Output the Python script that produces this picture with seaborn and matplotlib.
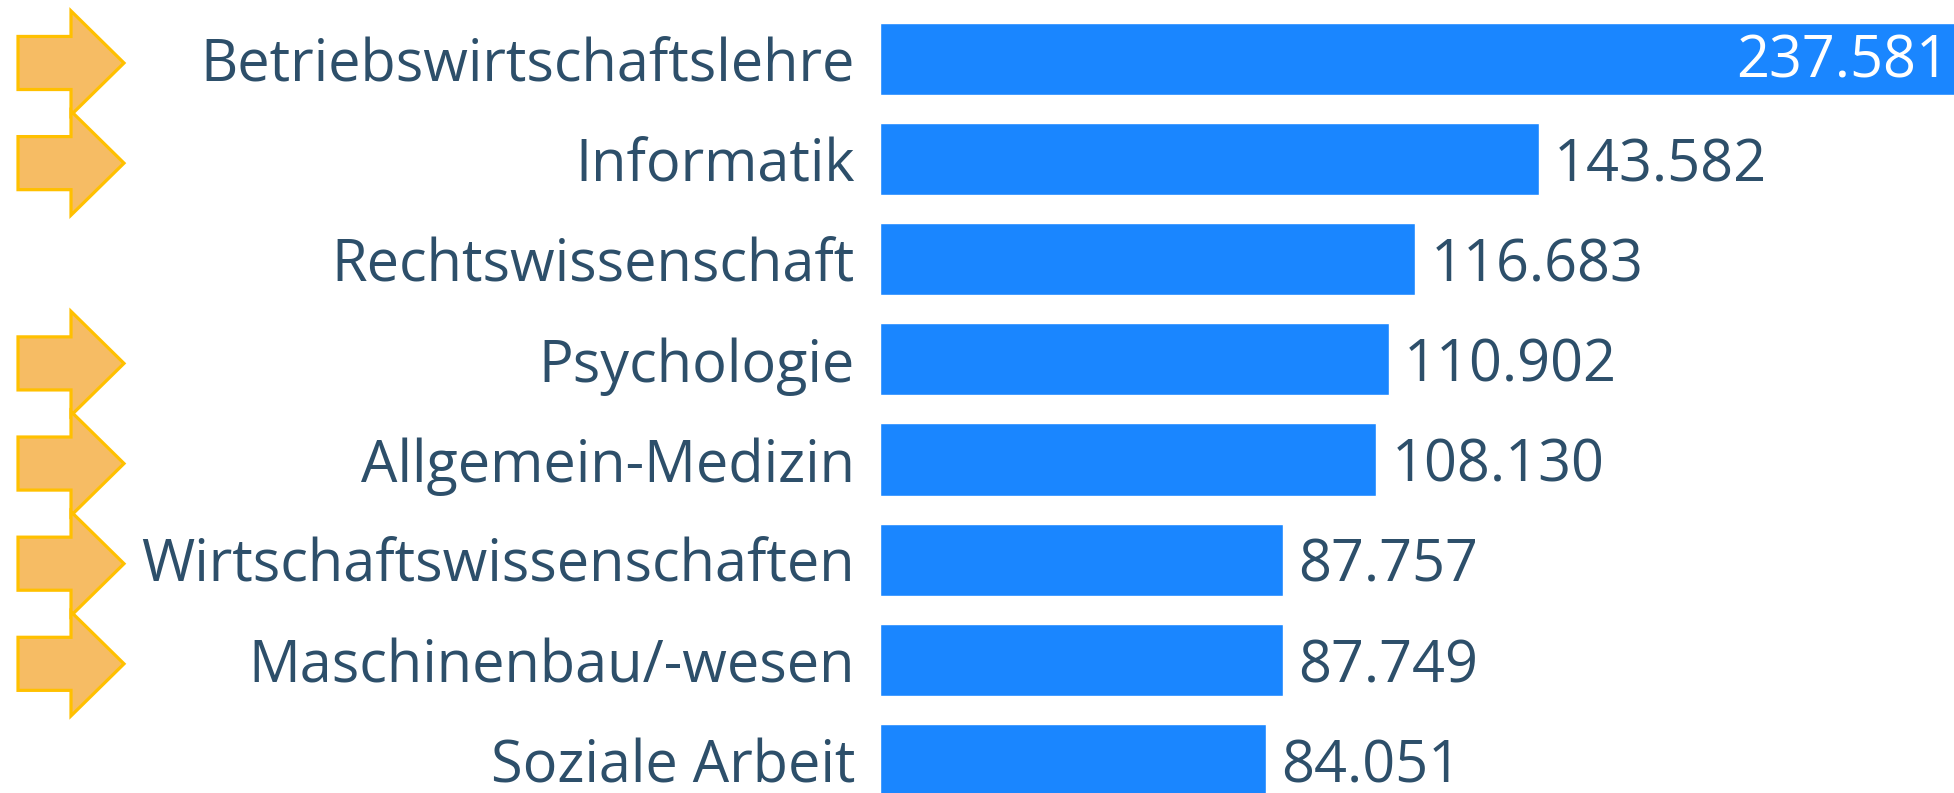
import matplotlib
matplotlib.use("Agg")
import matplotlib.pyplot as plt
from matplotlib.patches import Polygon
import seaborn as sns
import pandas as pd

# Data
faecher = ['Betriebswirtschaftslehre', 'Informatik', 'Rechtswissenschaft', 'Psychologie',
           'Allgemein-Medizin', 'Wirtschaftswissenschaften', 'Maschinenbau/-wesen', 'Soziale Arbeit']
studierende = [237.581, 143.582, 116.683, 110.902, 108.130, 87.757, 87.749, 84.051]
markiert = [True, True, False, True, True, True, True, False]

df = pd.DataFrame({'fach': faecher, 'wert': studierende})

sns.set_theme(style='white')
plt.rcParams['font.family'] = ['Open Sans', 'DejaVu Sans']

text_col = '#2d4f6a'
bar_col = '#1a86ff'
fs = 41.5

fig = plt.figure(figsize=(19.54, 7.93), dpi=100)
ax = fig.add_axes([880 / 1954, 0, 1 - 880 / 1954, 1])

sns.barplot(data=df, x='wert', y='fach', orient='h', color=bar_col,
            saturation=1, width=0.72, ax=ax)

ax.set_xlim(0, 234.1)
ax.set_ylim(7.33, -0.589)
ax.set_xlabel('')
ax.set_ylabel('')
ax.set_xticks([])
ax.tick_params(axis='y', length=0, pad=18, labelsize=fs, labelcolor=text_col)
sns.despine(ax=ax, left=True, bottom=True, top=True, right=True)

# value labels
for i, v in enumerate(studierende):
    label = f'{v:.3f}'
    if i == 0:
        ax.annotate(label, (v, i), xytext=(-15, -2), textcoords='offset points',
                    ha='right', va='center', fontsize=fs, color='white',
                    annotation_clip=False)
    else:
        ax.annotate(label, (v, i), xytext=(11, -5), textcoords='offset points',
                    ha='left', va='center', fontsize=fs, color=text_col)

# arrows on the left
ax2 = fig.add_axes([0, 0, 140 / 1954, 1])
ax2.set_xlim(0, 140)
ax2.set_ylim(7.33, -0.589)
ax2.axis('off')
for i, m in enumerate(markiert):
    if not m:
        continue
    y = i + 0.04
    pts = [(18, y - 0.265), (71, y - 0.265), (71, y - 0.52), (124, y),
           (71, y + 0.52), (71, y + 0.265), (18, y + 0.265)]
    ax2.add_patch(Polygon(pts, closed=True, facecolor='#f6bc64',
                          edgecolor='#ffc000', linewidth=2.3, joinstyle='miter'))

fig.savefig('out.png', dpi=100)
plt.close(fig)
